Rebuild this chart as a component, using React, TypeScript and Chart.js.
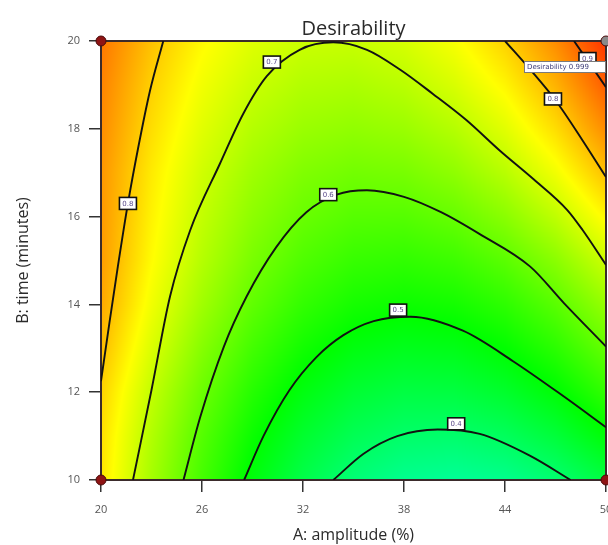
import React, { useEffect, useRef } from "react";
import { Chart, registerables } from "chart.js";

Chart.register(...registerables);

// ---------- data ----------
const chartTitle = "Desirability";
const xTitle = "A: amplitude (%)";
const yTitle = "B: time (minutes)";
const xMin = 20;
const xMax = 50;
const xStep = 6;
const yMin = 10;
const yMax = 20;
const yStep = 2;

// grid of desirability values (rows = time B, columns = amplitude A)
const gridA = [20, 23, 26, 29, 32, 35, 38, 41, 44, 47, 50];
const gridB = [10, 11, 12, 13, 14, 15, 16, 17, 18, 19, 20];
const row10 = [0.776, 0.662, 0.567, 0.488, 0.428, 0.385, 0.36, 0.352, 0.362, 0.39, 0.435];
const row11 = [0.782, 0.674, 0.583, 0.51, 0.455, 0.418, 0.398, 0.395, 0.41, 0.443, 0.494];
const row12 = [0.795, 0.691, 0.605, 0.536, 0.485, 0.451, 0.435, 0.437, 0.457, 0.494, 0.548];
const row13 = [0.816, 0.715, 0.631, 0.565, 0.517, 0.486, 0.473, 0.478, 0.501, 0.541, 0.598];
const row14 = [0.836, 0.737, 0.657, 0.594, 0.549, 0.521, 0.511, 0.519, 0.544, 0.587, 0.647];
const row15 = [0.847, 0.753, 0.677, 0.618, 0.577, 0.553, 0.547, 0.559, 0.588, 0.635, 0.7];
const row16 = [0.851, 0.762, 0.691, 0.638, 0.602, 0.584, 0.583, 0.6, 0.635, 0.687, 0.757];
const row17 = [0.854, 0.77, 0.704, 0.656, 0.625, 0.612, 0.617, 0.64, 0.68, 0.737, 0.812];
const row18 = [0.863, 0.783, 0.721, 0.677, 0.651, 0.642, 0.651, 0.677, 0.721, 0.783, 0.863];
const row19 = [0.872, 0.796, 0.738, 0.698, 0.675, 0.669, 0.682, 0.712, 0.759, 0.825, 0.908];
const row20 = [0.884, 0.811, 0.756, 0.719, 0.699, 0.696, 0.711, 0.744, 0.795, 0.863, 0.949];
const desirabilityRows = [row10, row11, row12, row13, row14, row15, row16, row17, row18, row19, row20];

// contour lines (A, B)
const contour04 = [
  { x: 33.8, y: 10 }, { x: 35.6, y: 10.6 }, { x: 37.6, y: 11.0 }, { x: 40.0, y: 11.15 },
  { x: 42.5, y: 11.05 }, { x: 45.5, y: 10.55 }, { x: 47.9, y: 10 },
];
const contour05 = [
  { x: 28.5, y: 10 }, { x: 29.65, y: 11.0 }, { x: 31.2, y: 12.05 }, { x: 32.8, y: 12.8 },
  { x: 34.4, y: 13.3 }, { x: 36.2, y: 13.62 }, { x: 38.4, y: 13.72 }, { x: 41.5, y: 13.4 },
  { x: 44.5, y: 12.7 }, { x: 47.5, y: 11.9 }, { x: 50, y: 11.2 },
];
const contour06 = [
  { x: 24.9, y: 10 }, { x: 25.9, y: 11.44 }, { x: 27.3, y: 13.04 }, { x: 28.65, y: 14.18 },
  { x: 30.4, y: 15.3 }, { x: 32.2, y: 16.1 }, { x: 34.0, y: 16.5 }, { x: 35.8, y: 16.6 },
  { x: 38.0, y: 16.45 }, { x: 40.2, y: 16.1 }, { x: 42.5, y: 15.6 }, { x: 45.5, y: 14.86 },
  { x: 47.5, y: 14.03 }, { x: 50, y: 13.04 },
];
const contour07 = [
  { x: 21.9, y: 10 }, { x: 23.0, y: 12.05 }, { x: 24.1, y: 14.18 }, { x: 25.3, y: 15.69 },
  { x: 27.07, y: 17.21 }, { x: 28.46, y: 18.35 }, { x: 29.85, y: 19.2 }, { x: 31.8, y: 19.8 },
  { x: 33.8, y: 19.97 }, { x: 35.8, y: 19.8 }, { x: 37.8, y: 19.34 }, { x: 39.7, y: 18.8 },
  { x: 41.7, y: 18.2 }, { x: 43.7, y: 17.5 }, { x: 45.7, y: 16.85 }, { x: 47.7, y: 16.15 },
  { x: 48.6, y: 15.7 }, { x: 50, y: 14.9 },
];
const contour08Left = [
  { x: 20, y: 12.25 }, { x: 20.5, y: 13.58 }, { x: 21.0, y: 14.86 }, { x: 21.6, y: 16.3 },
  { x: 22.2, y: 17.55 }, { x: 22.9, y: 18.85 }, { x: 23.7, y: 20 },
];
const contour08Right = [
  { x: 44.0, y: 20 }, { x: 45.5, y: 19.35 }, { x: 47.0, y: 18.65 }, { x: 48.6, y: 17.74 }, { x: 50, y: 16.9 },
];
const contour09 = [{ x: 48.1, y: 20 }, { x: 50, y: 18.95 }];
const contourSets = [contour04, contour05, contour06, contour07, contour08Left, contour08Right, contour09];

const labelA = [21.6, 30.15, 33.5, 37.65, 41.1, 46.85, 48.9];
const labelB = [16.3, 19.52, 16.5, 13.87, 11.28, 18.68, 19.6];
const labelText = ["0.8", "0.7", "0.6", "0.5", "0.4", "0.8", "0.9"];

const designA = [20, 20, 50, 50];
const designB = [20, 10, 10, 20];
const designColors = ["#8e1414", "#8e1414", "#8e1414", "#8a8a8a"];

const flagText = "Desirability 0.999";
const flagA = 50;
const flagB = 20;

// ---------- helpers ----------
function colorFor(v: number): [number, number, number] {
  const f = Math.max(0, Math.min(1, v));
  if (f < 0.25) return [0, Math.round((255 * f) / 0.25), 255];
  if (f < 0.5) return [0, 255, Math.round((255 * (0.5 - f)) / 0.25)];
  if (f < 0.75) return [Math.round((255 * (f - 0.5)) / 0.25), 255, 0];
  return [255, Math.round((255 * (1 - f)) / 0.25), 0];
}

function locate(arr: number[], v: number): [number, number] {
  let i = 0;
  while (i < arr.length - 2 && v > arr[i + 1]) i++;
  const t = Math.max(0, Math.min(1, (v - arr[i]) / (arr[i + 1] - arr[i])));
  return [i, t];
}

function sample(a: number, b: number): number {
  const [i, tx] = locate(gridA, a);
  const [j, ty] = locate(gridB, b);
  const r0 = desirabilityRows[j];
  const r1 = desirabilityRows[j + 1];
  const v0 = r0[i] * (1 - tx) + r0[i + 1] * tx;
  const v1 = r1[i] * (1 - tx) + r1[i + 1] * tx;
  return v0 * (1 - ty) + v1 * ty;
}

const fieldPlugin = {
  id: "field",
  beforeDatasetsDraw(chart: any) {
    const { ctx, chartArea, scales } = chart;
    const { left, top, width, height } = chartArea;
    const w = Math.round(width);
    const h = Math.round(height);
    const off = document.createElement("canvas");
    off.width = w;
    off.height = h;
    const octx = off.getContext("2d")!;
    const img = octx.createImageData(w, h);
    for (let py = 0; py < h; py++) {
      const b = scales.y.getValueForPixel(top + py + 0.5);
      for (let px = 0; px < w; px++) {
        const a = scales.x.getValueForPixel(left + px + 0.5);
        const [r, g, bl] = colorFor(sample(a, b));
        const k = (py * w + px) * 4;
        img.data[k] = r;
        img.data[k + 1] = g;
        img.data[k + 2] = bl;
        img.data[k + 3] = 255;
      }
    }
    octx.putImageData(img, 0, 0);
    ctx.save();
    ctx.drawImage(off, left, top);
    ctx.strokeStyle = "#3b2b2b";
    ctx.lineWidth = 2;
    ctx.strokeRect(left, top, width, height);
    ctx.restore();
  },
};

const labelPlugin = {
  id: "contourLabels",
  afterDatasetsDraw(chart: any) {
    const { ctx, scales } = chart;
    ctx.save();
    ctx.font = "7px 'DejaVu Sans'";
    ctx.textAlign = "center";
    ctx.textBaseline = "middle";
    labelText.forEach((t, i) => {
      const px = scales.x.getPixelForValue(labelA[i]);
      const py = scales.y.getPixelForValue(labelB[i]);
      ctx.fillStyle = "#ffffff";
      ctx.fillRect(px - 8.5, py - 6, 17, 12);
      ctx.strokeStyle = "#111111";
      ctx.lineWidth = 1.6;
      ctx.strokeRect(px - 8.5, py - 6, 17, 12);
      ctx.fillStyle = "#5a4a8a";
      ctx.fillText(t, px, py + 0.5);
    });
    // flag
    const fx = scales.x.getPixelForValue(flagA);
    const fy = scales.y.getPixelForValue(flagB);
    const bw = 82;
    const bh = 12;
    const bx = fx - bw;
    const by = fy + 20;
    ctx.fillStyle = "#ffffff";
    ctx.fillRect(bx, by, bw, bh);
    ctx.strokeStyle = "#7a7a7a";
    ctx.lineWidth = 1;
    ctx.strokeRect(bx + 0.5, by + 0.5, bw - 1, bh - 1);
    ctx.fillStyle = "#3c3c78";
    ctx.textAlign = "left";
    ctx.font = "7px 'DejaVu Sans'";
    ctx.fillText(flagText, bx + 3, by + bh / 2 + 0.5);
    ctx.restore();
  },
};

export default function App() {
  const ref = useRef<HTMLCanvasElement | null>(null);
  useEffect(() => {
    if (!ref.current) return;
    const lineDatasets = contourSets.map((pts) => ({
      type: "line" as const,
      data: pts,
      borderColor: "#121212",
      borderWidth: 1.9,
      pointRadius: 0,
      cubicInterpolationMode: "monotone" as const,
      fill: false,
      order: 2,
    }));
    const pointData = designA.map((a, i) => ({ x: a, y: designB[i] }));
    const chart = new Chart(ref.current, {
      type: "scatter",
      data: {
        datasets: [
          ...lineDatasets,
          {
            type: "scatter" as const,
            data: pointData,
            pointRadius: 5,
            pointBackgroundColor: designColors,
            pointBorderColor: "#4a0a0a",
            pointBorderWidth: 1,
            clip: false,
            order: 0,
          },
        ] as any,
      },
      options: {
        animation: false,
        responsive: true,
        maintainAspectRatio: false,
        layout: { padding: { left: 0, right: 34, top: 0, bottom: 0 } },
        plugins: {
          legend: { display: false },
          tooltip: { enabled: false },
          title: {
            display: true,
            text: chartTitle,
            fullSize: false,
            color: "#2a2a2a",
            font: { family: "'Open Sans'", size: 20, weight: "normal" },
            padding: { top: 17, bottom: 0 },
          },
        },
        scales: {
          x: {
            type: "linear",
            min: xMin,
            max: xMax,
            ticks: { stepSize: xStep, color: "#555", font: { family: "'Open Sans'", size: 11 }, padding: 11 },
            grid: { drawOnChartArea: false, drawTicks: true, tickLength: 12, color: "#333", lineWidth: 1.5 },
            border: { display: false },
            title: {
              display: true,
              text: xTitle,
              color: "#2a2a2a",
              font: { family: "'Open Sans'", size: 16 },
              padding: { top: 0, bottom: 0 },
            },
            afterFit: (s: any) => {
              s.height = 65;
            },
          },
          y: {
            type: "linear",
            min: yMin,
            max: yMax,
            ticks: { stepSize: yStep, color: "#555", font: { family: "'Open Sans'", size: 11 }, padding: 9 },
            grid: { drawOnChartArea: false, drawTicks: true, tickLength: 12, color: "#333", lineWidth: 1.5 },
            border: { display: false },
            title: {
              display: true,
              text: yTitle,
              color: "#2a2a2a",
              font: { family: "'Open Sans'", size: 16 },
              padding: { top: 14, bottom: 0 },
            },
            afterFit: (s: any) => {
              s.width = 101;
            },
          },
        },
      } as any,
      plugins: [fieldPlugin, labelPlugin],
    });
    return () => chart.destroy();
  }, []);

  return (
    <div style={{ position: "absolute", left: 0, top: 0, width: 608, height: 545, overflow: "hidden", background: "#fff" }}>
      <div style={{ position: "relative", width: 640, height: 545 }}>
        <canvas ref={ref} />
      </div>
    </div>
  );
}
